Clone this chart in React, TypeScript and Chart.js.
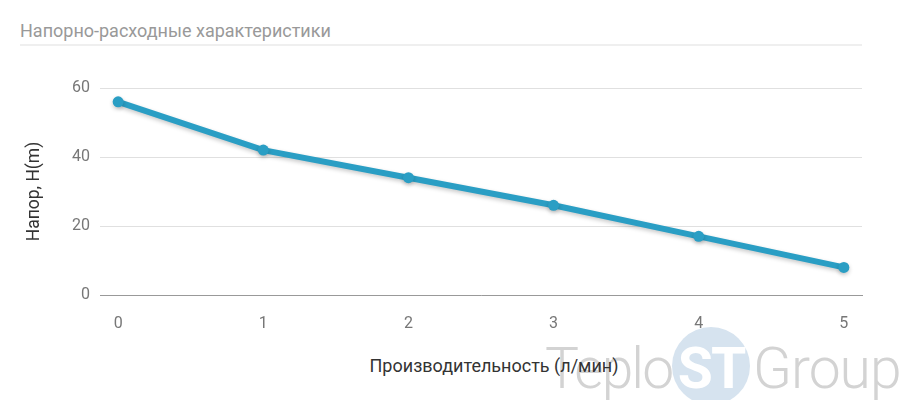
import React, { useEffect, useRef } from "react";
import { Chart, registerables } from "chart.js";

Chart.register(...registerables);

const chartTitle = "Напорно-расходные характеристики";
const xAxisTitle = "Производительность (л/мин)";
const yAxisTitle = "Напор, H(m)";
const flowValues = [0, 1, 2, 3, 4, 5];
const headValues = [56, 42, 34, 26, 17, 8];
const yTicks = [0, 20, 40, 60];

const shadowPlugin = {
  id: "lineShadow",
  beforeDatasetsDraw(chart: any) {
    const ctx = chart.ctx;
    ctx.save();
    ctx.shadowColor = "rgba(0,0,0,0.22)";
    ctx.shadowBlur = 4;
    ctx.shadowOffsetX = 0;
    ctx.shadowOffsetY = 2;
  },
  afterDatasetsDraw(chart: any) {
    chart.ctx.restore();
  },
};

const wmText: React.CSSProperties = {
  position: "absolute",
  top: 340,
  fontSize: 57,
  lineHeight: "57px",
  color: "#d3d3d3",
  whiteSpace: "nowrap",
  letterSpacing: -2,
  fontWeight: 300,
};

export default function App() {
  const ref = useRef<HTMLCanvasElement>(null);

  useEffect(() => {
    if (!ref.current) return;
    const chart = new Chart(ref.current, {
      type: "line",
      data: {
        datasets: [
          {
            data: flowValues.map((x, i) => ({ x, y: headValues[i] })),
            borderColor: "#2a9ec4",
            backgroundColor: "#2a9ec4",
            borderWidth: 6,
            pointRadius: 5.5,
            pointBorderWidth: 0,
            pointBackgroundColor: "#2a9ec4",
            tension: 0,
            fill: false,
          },
        ],
      },
      options: {
        animation: false,
        responsive: false,
        maintainAspectRatio: false,
        layout: { padding: { top: 88, right: 38, bottom: 0, left: 0 } },
        plugins: {
          legend: { display: false },
          tooltip: { enabled: false },
        },
        scales: {
          x: {
            type: "linear",
            min: -0.125,
            max: 5.125,
            afterBuildTicks: (scale: any) => {
              scale.ticks = flowValues.map((v) => ({ value: v }));
            },
            afterFit: (scale: any) => {
              scale.height = 105;
            },
            grid: { display: false },
            border: { display: true, color: "#999999", width: 1 },
            ticks: {
              color: "#777777",
              font: { family: "Roboto", size: 16 },
              padding: 11,
              callback: (v: any) => String(v),
            },
            title: { display: false, text: xAxisTitle },
          },
          y: {
            min: 0,
            max: 60,
            afterBuildTicks: (scale: any) => {
              scale.ticks = yTicks.map((v) => ({ value: v }));
            },
            afterFit: (scale: any) => {
              scale.width = 100;
            },
            grid: { color: "#e0e0e0", drawTicks: false, lineWidth: 1 },
            border: { display: false },
            ticks: {
              color: "#777777",
              font: { family: "Roboto", size: 16 },
              padding: 10,
            },
            title: {
              display: true,
              text: yAxisTitle,
              color: "#333333",
              font: { family: "Roboto", size: 17.5 },
              padding: { top: 24, bottom: 0 },
            },
          },
        },
      },
      plugins: [shadowPlugin],
    });
    return () => chart.destroy();
  }, []);

  return (
    <div
      style={{
        position: "fixed",
        left: 0,
        top: 0,
        width: 900,
        height: 400,
        overflow: "hidden",
        background: "#ffffff",
        fontFamily: "Roboto, sans-serif",
      }}
    >
      <div
        style={{
          position: "absolute",
          left: 20,
          top: 21,
          fontSize: 18,
          color: "#999999",
          lineHeight: "20px",
          whiteSpace: "nowrap",
        }}
      >
        {chartTitle}
      </div>
      <div
        style={{
          position: "absolute",
          left: 20,
          top: 44,
          width: 842,
          height: 2,
          background: "#efefef",
        }}
      />
      <div style={{ ...wmText, left: 545 }}>Teplo</div>
      <div
        style={{
          position: "absolute",
          left: 672,
          top: 327,
          width: 78,
          height: 78,
          borderRadius: "50%",
          background: "#d6e3ef",
        }}
      />
      <div
        style={{
          ...wmText,
          left: 672,
          width: 78,
          textAlign: "center",
          color: "#ffffff",
          fontWeight: 700,
        }}
      >
        ST
      </div>
      <div style={{ ...wmText, left: 753, letterSpacing: -1 }}>Group</div>
      <div
        style={{
          position: "absolute",
          left: 494,
          top: 355,
          transform: "translateX(-50%)",
          fontSize: 18,
          lineHeight: "22px",
          color: "#333333",
          whiteSpace: "nowrap",
        }}
      >
        {xAxisTitle}
      </div>
      <canvas
        ref={ref}
        width={900}
        height={400}
        style={{ position: "absolute", left: 0, top: 0, width: 900, height: 400 }}
      />
    </div>
  );
}
